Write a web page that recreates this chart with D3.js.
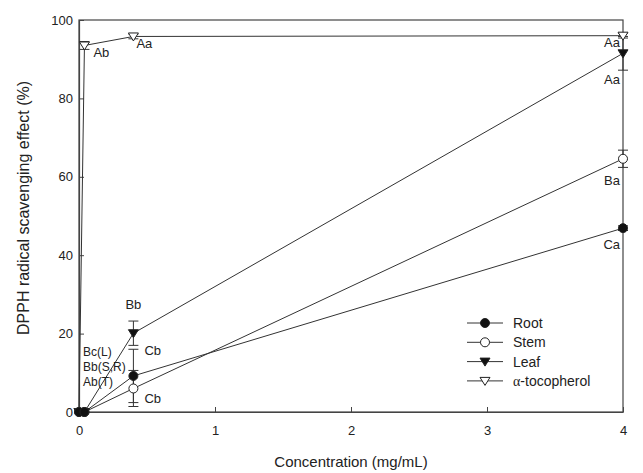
<!DOCTYPE html>
<html>
<head>
<meta charset="utf-8">
<script src="https://cdn.jsdelivr.net/npm/d3@7"></script>
<style>
body { margin: 0; background: #fff; }
text { font-family: Arial, "Liberation Sans", sans-serif; fill: #222; }
</style>
</head>
<body>
<div id="chart"></div>
<script>
// concentrations (mg/mL)
var conc = [0, 0.04, 0.4, 4];
var root = [0, 0, 9.2, 46.9];
var rootErr = [0, 0, 6.8, 0.6];
var stem = [0, 0, 6.0, 64.6];
var stemErr = [0, 0, 4.6, 2.2];
var leaf = [0, 0, 20.1, 91.5];
var leafErr = [0, 0, 3.1, 4.3];
var toco = [0, 93.5, 95.8, 96.0];
var tocoErr = [0, 1.0, 0.6, 0.6];

var xTicks = [0, 1, 2, 3, 4];
var yTicks = [0, 20, 40, 60, 80, 100];

// significance letters: [conc, value, text]
var letters = [
    [0.04, 93.5, "Ab"], [0.4, 95.8, "Aa"], [4, 96.0, "Aa"],
    [4, 91.5, "Aa"], [4, 64.6, "Ba"], [4, 46.9, "Ca"],
    [0.4, 20.1, "Bb"], [0.4, 20.1, "Cb"], [0.4, 6.0, "Cb"]
];
var lowLetters = ["Bc(L)", "Bb(S,R)", "Ab(T)"];

var series = [
    {name: "Root", vals: root, err: rootErr, shape: "circle", fill: "#111"},
    {name: "Stem", vals: stem, err: stemErr, shape: "circle", fill: "#fff"},
    {name: "Leaf", vals: leaf, err: leafErr, shape: "tri", fill: "#111"},
    {name: "-tocopherol", vals: toco, err: tocoErr, shape: "tri", fill: "#fff", greek: "\u03b1"}
];

var width = 643, height = 473;
var margin = {top: 20, right: 20, bottom: 61, left: 79};
var x = d3.scaleLinear().domain([0, 4]).range([margin.left, 623]);
var y = d3.scaleLinear().domain([0, 100]).range([412, margin.top]);

var svg = d3.select("#chart").append("svg")
    .attr("width", width)
    .attr("height", height);

// frame
svg.append("rect")
    .attr("x", x(0)).attr("y", y(100))
    .attr("width", x(4) - x(0)).attr("height", y(0) - y(100))
    .attr("fill", "none").attr("stroke", "#444").attr("stroke-width", 1.2);

var xAxis = svg.append("g")
    .attr("transform", "translate(0," + y(0) + ")")
    .call(d3.axisBottom(x).tickValues(xTicks).tickFormat(d3.format("d"))
        .tickSizeInner(-5).tickSizeOuter(0).tickPadding(14));
var yAxis = svg.append("g")
    .attr("transform", "translate(" + x(0) + ",0)")
    .call(d3.axisLeft(y).tickValues(yTicks).tickFormat(d3.format("d"))
        .tickSizeInner(-5).tickSizeOuter(0).tickPadding(6));
[xAxis, yAxis].forEach(function(a) {
    a.select(".domain").attr("stroke", "#444").attr("stroke-width", 1.2);
    a.selectAll(".tick line").attr("stroke", "#444");
    a.selectAll(".tick text").style("font-size", "13px").attr("fill", "#222")
        .style("font-family", "Arial, 'Liberation Sans', sans-serif");
});

svg.append("text")
    .attr("x", (x(0) + x(4)) / 2).attr("y", 467)
    .attr("text-anchor", "middle").style("font-size", "15px")
    .text("Concentration (mg/mL)");
svg.append("text")
    .attr("transform", "translate(29,208)rotate(-90)")
    .attr("text-anchor", "middle").style("font-size", "16px")
    .text("DPPH radical scavenging effect (%)");

var line = d3.line()
    .x(function(d, i) { return x(conc[i]); })
    .y(function(d) { return y(d); });

function drawMarker(g, shape, fill, cx, cy) {
    if (shape == "circle") {
        g.append("circle").attr("cx", cx).attr("cy", cy).attr("r", 4.5)
            .attr("fill", fill).attr("stroke", "#222").attr("stroke-width", 1);
    } else {
        var s = 5;
        g.append("path")
            .attr("d", "M" + (cx - s) + "," + (cy - s * 0.7) + "L" + (cx + s) + "," + (cy - s * 0.7) + "L" + cx + "," + (cy + s * 0.9) + "Z")
            .attr("fill", fill).attr("stroke", "#222").attr("stroke-width", 1);
    }
}

// lines and error bars
series.forEach(function(s) {
    svg.append("path").datum(s.vals)
        .attr("d", line).attr("fill", "none")
        .attr("stroke", "#333").attr("stroke-width", 1);
    s.vals.forEach(function(v, i) {
        var e = s.err[i];
        if (e > 0.5) {
            var cx = x(conc[i]);
            svg.append("line").attr("x1", cx).attr("x2", cx)
                .attr("y1", y(v - e)).attr("y2", y(v + e)).attr("stroke", "#333");
            [v - e, v + e].forEach(function(t) {
                svg.append("line").attr("x1", cx - 5).attr("x2", cx + 5)
                    .attr("y1", y(t)).attr("y2", y(t)).attr("stroke", "#333");
            });
        }
    });
});
series.slice().reverse().forEach(function(s) {
    var g = svg.append("g");
    s.vals.forEach(function(v, i) {
        drawMarker(g, s.shape, s.fill, x(conc[i]), y(v));
    });
});

// letters
var labelPos = [
    [9, 0, 12, "start"], [3, 0, 12, "start"], [-3, 0, 11, "end"],
    [-3, 0, 31, "end"], [-3, 0, 26, "end"], [-3, 0, 21, "end"],
    [0, 0, -24, "middle"], [11, 0, 22, "start"], [11, 0, 15, "start"]
];
letters.forEach(function(l, i) {
    var p = labelPos[i];
    svg.append("text")
        .attr("x", x(l[0]) + p[0]).attr("y", y(l[1]) + p[2])
        .attr("text-anchor", p[3]).style("font-size", "13px").attr("fill", "#333")
        .text(l[2]);
});
lowLetters.forEach(function(t, i) {
    svg.append("text")
        .attr("x", x(0) + 4).attr("y", 356 + i * 15)
        .style("font-size", "12px").attr("fill", "#333")
        .text(t);
});

// legend
var legend = svg.append("g").attr("transform", "translate(467,323)");
series.forEach(function(s, i) {
    var g = legend.append("g").attr("transform", "translate(0," + i * 19.3 + ")");
    g.append("line").attr("x1", 0).attr("x2", 36).attr("y1", 0).attr("y2", 0)
        .attr("stroke", "#333");
    drawMarker(g, s.shape, s.fill, 18, 0);
    var t = g.append("text").attr("x", 46).attr("y", 5).style("font-size", "14px");
    if (s.greek) {
        t.append("tspan").style("font-family", "'Liberation Serif', serif").text(s.greek);
    }
    t.append("tspan").text(s.name);
});
</script>
</body>
</html>
